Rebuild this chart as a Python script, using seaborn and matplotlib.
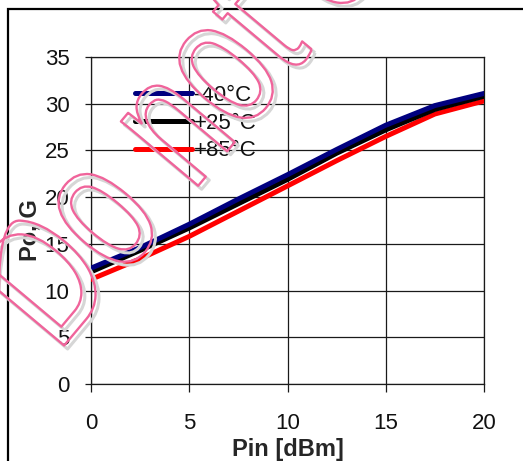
import numpy as np
import pandas as pd
import seaborn as sns
import matplotlib
matplotlib.use("Agg")
import matplotlib.pyplot as plt
from matplotlib import patheffects as pe
from matplotlib.patches import Rectangle
from matplotlib.transforms import Affine2D

# ---- data ----
pin = [0, 2.5, 5, 7.5, 10, 12.5, 15, 17.5, 20]
po_m40 = [12.4, 14.6, 17.1, 19.8, 22.4, 25.1, 27.7, 29.8, 31.1]
po_p25 = [12.0, 14.3, 16.7, 19.3, 21.9, 24.7, 27.2, 29.4, 30.8]
po_p85 = [11.2, 13.4, 15.8, 18.5, 21.2, 23.9, 26.5, 28.9, 30.3]
labels = ["-40°C", "+25°C", "+85°C"]
colors = ["#00007f", "#000000", "#ff0000"]
xticks = [0, 5, 10, 15, 20]
yticks = [0, 5, 10, 15, 20, 25, 30, 35]

df = pd.concat([
    pd.DataFrame({"Pin": pin, "Po": po_m40, "T": labels[0]}),
    pd.DataFrame({"Pin": pin, "Po": po_p25, "T": labels[1]}),
    pd.DataFrame({"Pin": pin, "Po": po_p85, "T": labels[2]}),
])

sns.set_theme(style="white")
plt.rcParams["font.family"] = ["Liberation Sans", "DejaVu Sans"]

fig = plt.figure(figsize=(5.23, 4.61), dpi=100)
W, H = 523, 461
ax = fig.add_axes([91 / W, 1 - 384 / H, (484 - 91) / W, (384 - 57) / H])

# draw red first, then black, then blue on top
for lab, col in zip(labels[::-1], colors[::-1]):
    sns.lineplot(data=df[df["T"] == lab], x="Pin", y="Po", color=col,
                 linewidth=3.6, ax=ax, label=lab, zorder=3)

ax.set_xlim(0, 20)
ax.set_ylim(0, 35)
ax.set_xticks(xticks)
ax.set_yticks(yticks)
ax.grid(True, color="#1a1a1a", linewidth=0.9)
for s in ax.spines.values():
    s.set_color("#1a1a1a")
    s.set_linewidth(0.9)
ax.tick_params(axis="y", direction="out", length=4.5, width=0.9, color="#1a1a1a",
               pad=11, labelsize=16, labelcolor="#111111", left=True)
ax.tick_params(axis="x", direction="out", length=6, width=0.9, color="#1a1a1a",
               pad=15, labelsize=16, labelcolor="#111111", bottom=True)

ax.set_xlabel("Pin [dBm]", fontsize=17, fontweight="bold", labelpad=0)
ax.xaxis.set_label_coords(0.5, -0.165)
ax.set_ylabel("Po, G", fontsize=17, fontweight="bold")
ax.yaxis.set_label_coords(-0.125, 0.47)

h, l = ax.get_legend_handles_labels()
order = [l.index(x) for x in labels]
leg = ax.legend([h[i] for i in order], [l[i] for i in order],
                loc="upper left", bbox_to_anchor=((135 - 91) / 393, (384 - 85) / 327),
                frameon=False, fontsize=16, handlelength=2.55, handletextpad=0.12,
                labelspacing=0.3, borderpad=0, borderaxespad=0)
for t in leg.get_texts():
    t.set_color("#111111")

# outer frame
fig.add_artist(Rectangle((8 / W, -0.2), 1.2, 1 - 9 / H + 0.2, transform=fig.transFigure,
                         fill=False, edgecolor="black", linewidth=1.6, clip_on=False))


# watermark: condensed outline text
class CondensedStroke(pe.AbstractPathEffect):
    def __init__(self, sx, offset=(0, 0), **kwargs):
        super().__init__(offset)
        self.sx = sx
        self._gc = kwargs

    def draw_path(self, renderer, gc, tpath, affine, rgbFace):
        gc0 = renderer.new_gc()
        gc0.copy_properties(gc)
        gc0 = self._update_gc(gc0, self._gc)
        trans = Affine2D().scale(self.sx, 1) + affine + self._offset_transform(renderer)
        renderer.draw_path(gc0, tpath, trans, rgbFace)
        gc0.restore()


fig.text(57 / W, 1 - 354 / H, "Do not copy", fontsize=137, rotation=50,
         rotation_mode="anchor", ha="left", va="baseline", color=(1, 1, 1, 0),
         family="Liberation Sans", zorder=20,
         path_effects=[CondensedStroke(0.71, offset=(2.5, -2.5), linewidth=2.2, foreground="#d6d6d6"),
                       CondensedStroke(0.71, linewidth=1.7, foreground="#f0649b")])

fig.savefig("out.png", dpi=100)
